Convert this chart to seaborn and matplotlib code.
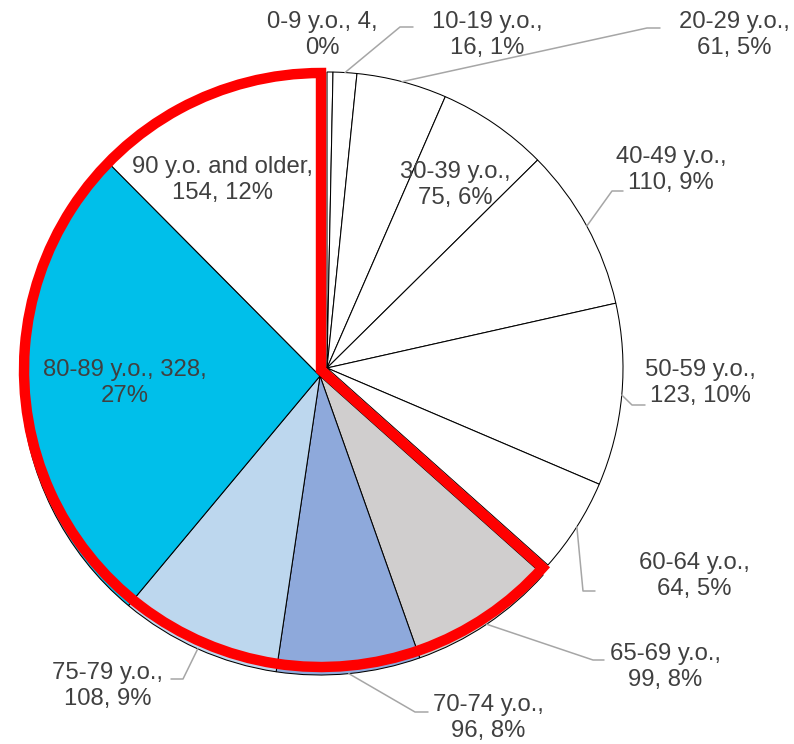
import matplotlib
matplotlib.use("Agg")
import matplotlib.pyplot as plt
import seaborn as sns
import numpy as np
from matplotlib.patches import Wedge

# ---------------- data ----------------
categories = ["0-9 y.o.", "10-19 y.o.", "20-29 y.o.", "30-39 y.o.", "40-49 y.o.",
              "50-59 y.o.", "60-64 y.o.", "65-69 y.o.", "70-74 y.o.", "75-79 y.o.",
              "80-89 y.o.", "90 y.o. and older"]
counts = [4, 16, 61, 75, 110, 123, 64, 99, 96, 108, 328, 154]
percents = [0, 1, 5, 6, 9, 10, 5, 8, 8, 9, 27, 12]
highlight = [False] * 7 + [True] * 5

# ---------------- style ----------------
sns.set_theme(style="white")
plt.rcParams["font.family"] = ["Liberation Sans", "DejaVu Sans"]

colors = ["#FFFFFF"] * 7 + ["#D0CECE", "#8EA9DB", "#BDD7EE", "#00BFEA", "#FFFFFF"]
TEXT = "#404040"
LEAD = "#A6A6A6"

W, H = 794, 744
fig = plt.figure(figsize=(W / 100, H / 100), dpi=100)
ax = fig.add_axes([0, 0, 1, 1])

def P(px, py):
    return (px, H - py)

main_center = P(327, 368)
main_r = 296
hl_center = P(320, 376)
hl_r = 299

wedges, _ = ax.pie(counts, colors=colors, startangle=90, counterclock=False,
                   radius=main_r, center=main_center,
                   wedgeprops=dict(edgecolor="black", linewidth=0.75))
for w, h in zip(wedges, highlight):
    if h:
        w.set_center(hl_center)
        w.set_radius(hl_r)

# red outline around the highlighted group
hl_idx = [i for i, h in enumerate(highlight) if h]
red = Wedge(P(321, 370), 297, wedges[hl_idx[-1]].theta1, wedges[hl_idx[0]].theta2,
            fill=False, edgecolor="#FF0000", linewidth=7.5, joinstyle="miter", zorder=5)
ax.add_patch(red)

# ---------------- labels (layout) ----------------
label_pos = [P(322, 35), P(487, 35), P(734, 35), P(455, 185), P(671, 170),
             P(700, 383), P(694, 576), P(665, 667), P(488, 718), P(108, 686),
             P(125, 383), P(222, 180)]
break_after_count = [True, False, False, False, False, False, False, False, False,
                     False, True, False]
leaders = [None,
           (P(400, 27), P(413, 27)),
           (P(647, 28), P(660, 28)),
           None,
           (P(612, 191), P(623, 191)),
           (P(632, 405), P(645, 405)),
           (P(583, 591), P(595, 591)),
           (P(593, 660), P(604, 660)),
           (P(415, 712), P(428, 712)),
           (P(183, 679), P(171, 679)),
           None,
           None]

for i, w in enumerate(wedges):
    if break_after_count[i]:
        txt = f"{categories[i]}, {counts[i]},\n{percents[i]}%"
    else:
        txt = f"{categories[i]},\n{counts[i]}, {percents[i]}%"
    ax.text(*label_pos[i], txt, ha="center", va="center", multialignment="center",
            fontsize=17.2, color=TEXT, linespacing=1.2, zorder=6)
    if leaders[i] is not None:
        mid = np.deg2rad((w.theta1 + w.theta2) / 2)
        cx, cy = w.center
        ax_pt = (cx + w.r * np.cos(mid), cy + w.r * np.sin(mid))
        xs = [ax_pt[0], leaders[i][0][0], leaders[i][1][0]]
        ys = [ax_pt[1], leaders[i][0][1], leaders[i][1][1]]
        ax.plot(xs, ys, color=LEAD, linewidth=1.1, zorder=4)

ax.set_xlim(0, W)
ax.set_ylim(0, H)
ax.set_aspect("auto")
ax.axis("off")

fig.savefig("out.png", dpi=100, facecolor="white")
